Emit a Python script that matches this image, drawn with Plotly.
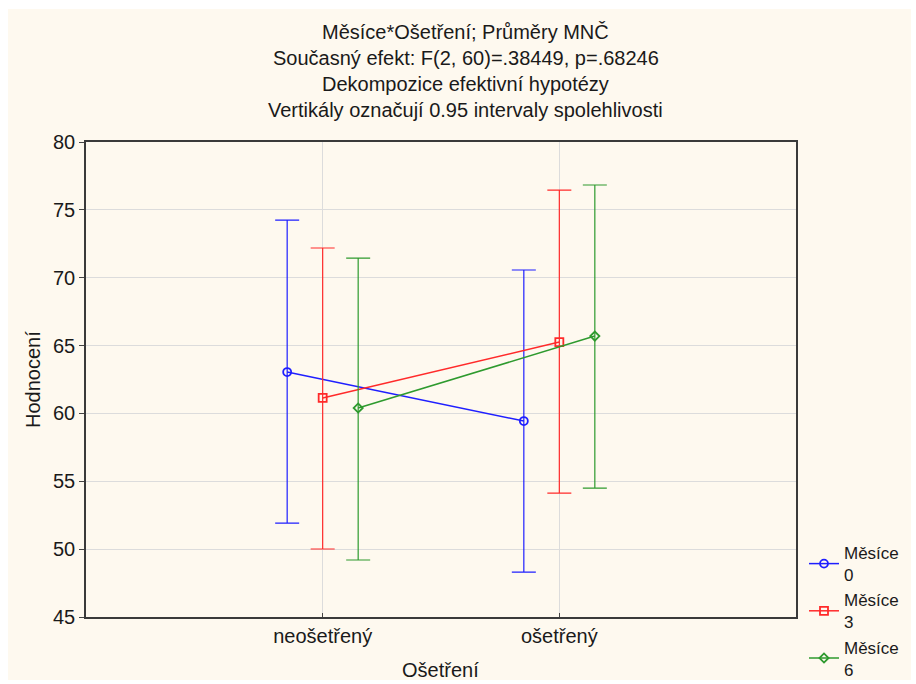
import plotly.graph_objects as go

categories = ["neošetřený", "ošetřený"]
series_names = ["Měsíce<br>0", "Měsíce<br>3", "Měsíce<br>6"]
means = [
    [63.05, 59.44],
    [61.14, 65.26],
    [60.40, 65.70],
]
upper = [
    [74.25, 70.57],
    [72.19, 76.46],
    [71.45, 76.83],
]
lower = [
    [51.92, 48.31],
    [50.01, 54.13],
    [49.20, 54.50],
]
offsets = [-0.15, 0.0, 0.15]
colors = ["#1f1fff", "#ff2a2a", "#2e9a2e"]
symbols = ["circle-open", "square-open", "diamond-open"]
msizes = [8, 8, 7]
title_lines = [
    "Měsíce*Ošetření; Průměry MNČ",
    "Současný efekt: F(2, 60)=.38449, p=.68246",
    "Dekompozice efektivní hypotézy",
    "Vertikály označují 0.95 intervaly spolehlivosti",
]
yticks = [45, 50, 55, 60, 65, 70, 75, 80]

FONT = "Liberation Sans, Arial, sans-serif"
FS = 20
TXT = "#1a1a1a"
fig = go.Figure()
for i in range(3):
    xs = [j + offsets[i] for j in range(len(categories))]
    fig.add_trace(go.Scatter(
        x=xs, y=means[i], name=series_names[i], mode="lines+markers",
        line=dict(color=colors[i], width=1.5),
        marker=dict(symbol=symbols[i], size=msizes[i], color=colors[i],
                    line=dict(color=colors[i], width=1.8)),
        error_y=dict(type="data", symmetric=False,
                     array=[u - m for u, m in zip(upper[i], means[i])],
                     arrayminus=[m - l for m, l in zip(means[i], lower[i])],
                     color=colors[i], thickness=1.2, width=12),
    ))

W, H = 916, 684
L, R, T, B = 86, 120, 142, 67
pw, ph = W - L - R, H - T - B

def px2x(p):
    return (p - L) / pw

def py2y(p):
    return (H - B - p) / ph

shapes = [dict(type="rect", xref="paper", yref="paper", layer="below",
               x0=px2x(8), x1=px2x(911), y0=py2y(680), y1=py2y(9),
               fillcolor="#fef9ef", line=dict(width=0))]

annotations = []
for k, t in enumerate(title_lines):
    annotations.append(dict(text=t, xref="paper", yref="paper",
                            x=px2x(466), y=py2y(32 + 26 * k),
                            xanchor="center", yanchor="middle", showarrow=False,
                            font=dict(family=FONT, size=FS, color=TXT)))
annotations.append(dict(text="Hodnocení", xref="paper", yref="paper",
                        x=px2x(33), y=py2y(380), textangle=-90,
                        xanchor="center", yanchor="middle", showarrow=False,
                        font=dict(family=FONT, size=FS, color=TXT)))
annotations.append(dict(text="Ošetření", xref="paper", yref="paper",
                        x=px2x(440), y=py2y(670),
                        xanchor="center", yanchor="middle", showarrow=False,
                        font=dict(family=FONT, size=FS, color=TXT)))

fig.update_layout(
    width=W, height=H,
    margin=dict(l=L, r=R, t=T, b=B, autoexpand=False),
    paper_bgcolor="white", plot_bgcolor="white",
    font=dict(family=FONT, size=FS, color=TXT),
    shapes=shapes, annotations=annotations,
    showlegend=True,
    legend=dict(x=px2x(804), y=py2y(535), xanchor="left", yanchor="top",
                bgcolor="rgba(0,0,0,0)", font=dict(size=17, color=TXT),
                tracegroupgap=0, itemwidth=30),
    xaxis=dict(range=[-1, 2], tickvals=[0, 1], ticktext=categories,
               showgrid=True, gridcolor="#dcdcdc", gridwidth=1,
               showline=True, linecolor="#3a3a3a", linewidth=1.5, mirror=True,
               ticks="inside", ticklen=4, tickcolor="#444", zeroline=False,
               tickfont=dict(size=FS)),
    yaxis=dict(range=[45, 80], tickvals=yticks,
               showgrid=True, gridcolor="#dcdcdc", gridwidth=1,
               showline=True, linecolor="#3a3a3a", linewidth=1.5, mirror=True,
               ticks="outside", ticklen=5, tickcolor="#444", zeroline=False,
               tickfont=dict(size=FS)),
)

fig.write_html("out.html")
